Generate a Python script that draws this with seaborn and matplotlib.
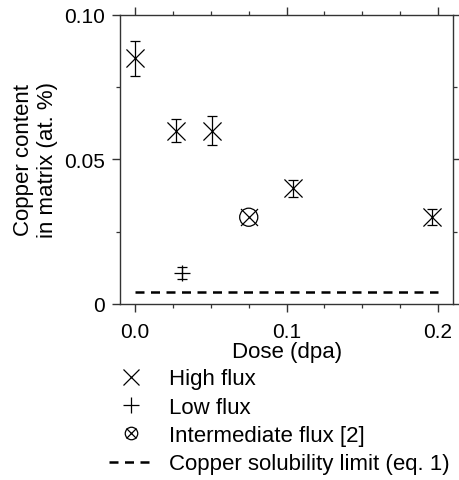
import matplotlib
matplotlib.use("Agg")
import matplotlib.pyplot as plt
import seaborn as sns
import pandas as pd
from matplotlib.lines import Line2D
from matplotlib.legend_handler import HandlerTuple
from matplotlib.ticker import MultipleLocator

sns.set_theme(style="ticks")
plt.rcParams["font.family"] = ["Liberation Sans", "DejaVu Sans"]
plt.rcParams["text.color"] = "black"
plt.rcParams["axes.labelcolor"] = "black"

# дані з рисунка
high_dose = [0.0, 0.027, 0.051, 0.104, 0.196]
high_cu = [0.085, 0.060, 0.060, 0.040, 0.030]
high_err = [0.006, 0.004, 0.005, 0.003, 0.0027]

low_dose = [0.031]
low_cu = [0.0107]
low_err = [0.002]

inter_dose = [0.075]
inter_cu = [0.030]

limit_dose = [0.0, 0.2]
limit_cu = [0.004, 0.004]

df_high = pd.DataFrame({"dose": high_dose, "cu": high_cu})
df_low = pd.DataFrame({"dose": low_dose, "cu": low_cu})
df_inter = pd.DataFrame({"dose": inter_dose, "cu": inter_cu})
df_limit = pd.DataFrame({"dose": limit_dose, "cu": limit_cu})

fig = plt.figure(figsize=(4.6, 4.81), dpi=100)
ax = fig.add_axes([0.261, 0.366, 0.724, 0.601])

ax.errorbar(high_dose, high_cu, yerr=high_err, fmt="none", ecolor="black",
            elinewidth=0.9, capsize=3.3, capthick=0.9)
ax.errorbar(low_dose, low_cu, yerr=low_err, fmt="none", ecolor="black",
            elinewidth=0.9, capsize=3.3, capthick=0.9)

sns.scatterplot(data=df_high, x="dose", y="cu", marker="x", s=170,
                color="black", linewidth=0.9, ax=ax, zorder=3)
sns.scatterplot(data=df_low, x="dose", y="cu", marker="+", s=130,
                color="black", linewidth=0.9, ax=ax, zorder=3)
sns.scatterplot(data=df_inter, x="dose", y="cu", marker="o", s=170,
                facecolor="none", edgecolor="black", linewidth=0.9, ax=ax, zorder=3)
sns.scatterplot(data=df_inter, x="dose", y="cu", marker="x", s=150,
                color="black", linewidth=0.9, ax=ax, zorder=3)
sns.lineplot(data=df_limit, x="dose", y="cu", color="black", linestyle=(0, (3.6, 2.6)),
             linewidth=1.8, ax=ax)

ax.set_xlim(-0.01, 0.21)
ax.set_ylim(0, 0.1)
ax.xaxis.set_minor_locator(MultipleLocator(0.025))
ax.yaxis.set_minor_locator(MultipleLocator(0.025))
ax.set_xticks([0.0, 0.1, 0.2], ["0.0", "0.1", "0.2"])
ax.set_yticks([0, 0.05, 0.10], ["0", "0.05", "0.10"])

for s in ax.spines.values():
    s.set_visible(True)
    s.set_linewidth(1.0)
    s.set_color("#333333")
ax.tick_params(which="both", direction="out", top=True, right=True,
               labeltop=False, labelright=False, color="#333333",
               labelcolor="black", labelsize=15)
ax.tick_params(which="major", length=6, width=1.0)
ax.tick_params(axis="x", which="major", pad=7)
ax.tick_params(axis="y", which="major", pad=5)
ax.tick_params(which="minor", length=3, width=0.9)

ax.set_xlabel("Dose (dpa)", fontsize=16, labelpad=0)
ax.set_ylabel("Copper content\nin matrix (at. %)", fontsize=16, labelpad=4)

h_high = Line2D([], [], marker="x", color="black", linestyle="none", markersize=11, mew=0.9)
h_low = Line2D([], [], marker="+", color="black", linestyle="none", markersize=11, mew=0.9)
h_ci = Line2D([], [], marker="o", color="black", mfc="none", linestyle="none", markersize=9, mew=0.9)
h_cx = Line2D([], [], marker="x", color="black", linestyle="none", markersize=7, mew=0.9)
h_lim = Line2D([], [], color="black", linestyle=(0, (3.6, 2.6)), linewidth=1.8)

fig.legend([h_high, h_low, (h_ci, h_cx), h_lim],
           ["High flux", "Low flux", "Intermediate flux [2]", "Copper solubility limit (eq. 1)"],
           handler_map={tuple: HandlerTuple(ndivide=1, pad=0)},
           loc="upper left", bbox_to_anchor=(0.237, 0.232), frameon=False,
           fontsize=16, handlelength=1.95, handletextpad=0.75, labelspacing=0.33,
           borderaxespad=0, borderpad=0)

fig.savefig("out.png", dpi=100)
